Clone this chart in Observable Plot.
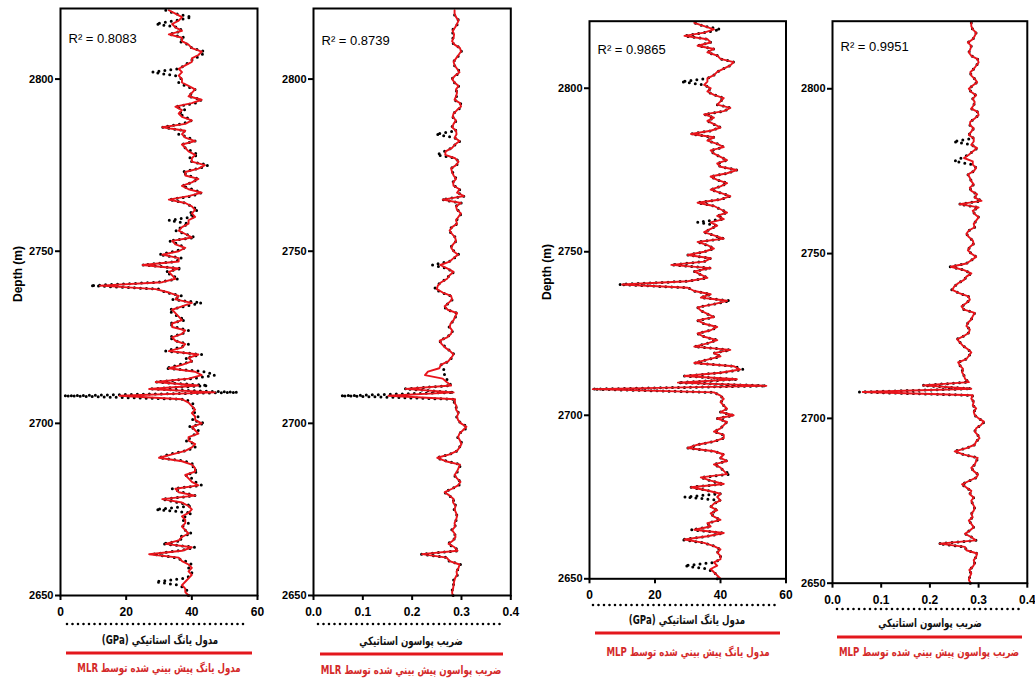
<!DOCTYPE html>
<html><head><meta charset="utf-8">
<script src="https://cdn.jsdelivr.net/npm/d3@7"></script>
<script src="https://cdn.jsdelivr.net/npm/@observablehq/plot@0.6"></script>
<style>
body{margin:0;background:#fff;}
#wrap{position:relative;width:1035px;height:684px;overflow:hidden;background:#fff;}
.fa{position:absolute;direction:rtl;font-family:"DejaVu Sans",sans-serif;font-weight:bold;white-space:nowrap;transform:translate(-50%,-50%) scaleX(0.75);font-size:11.5px;}
</style></head>
<body><div id="wrap"></div>
<script>
// depth axis (m), 1 m samples from 2650 to 2820
const depthStart = 2650, depthStep = 1;
const depthTicks = [2650, 2700, 2750, 2800];
const eTicks = [0, 20, 40, 60];
const nuTicks = [0, 0.1, 0.2, 0.3, 0.4];
const r2Labels = ["R² = 0.8083", "R² = 0.8739", "R² = 0.9865", "R² = 0.9951"];
const measLabelE = "مدول يانگ استاتيكي (GPa)";
const measLabelNu = "ضريب پواسون استاتيكي";
const predLabels = ["مدول يانگ پيش بيني شده توسط MLR", "ضريب پواسون پيش بيني شده توسط MLR", "مدول يانگ پيش بيني شده توسط MLP", "ضريب پواسون پيش بيني شده توسط MLP"];

// Static Young's modulus (GPa), measured
const eMeas = [39,39,38,36,29,38,40,40,39,40, 38,35,28,36,41,31,37,36,40,38, 37,39,37,38,40,29,40,36,31,41,
 37,34,43,41,40,38,42,40,41,38, 30,33,38,41,41,38,40,41,42,39, 44,40,42,41,40,41,40,38,1,54,
 27,45,29,40,47,44,32,36,40,38, 43,32,36,39,35,33,37,39,35,33, 38,36,34,33,38,43,34,37,32,30,
 9,30,36,34,32,37,25,35,37,30, 35,38,36,33,41,38,35,37,39,33, 41,39,42,40,38,33,40,43,40,37,
 40,42,39,37,42,45,40,39,42,40, 38,37,41,39,36,38,31,37,40,38, 36,38,35,41,43,39,40,41,38,36,
 37,35,28,36,38,39,41,43,44,40, 39,36,38,33,37,36,29,35,40,35, 32];
// predicted by MLR
const eMLR = [39,38,38,37,38,39,40,39,40,39, 37,36,27,37,40,32,36,37,39,38, 37,38,38,37,39,40,39,37,31,41,
 36,35,42,40,39,38,41,41,40,37, 30,34,38,40,41,39,39,42,41,40, 43,41,41,40,41,40,39,37,18,47,
 27,42,29,39,43,41,33,37,40,39, 42,33,37,38,35,34,37,38,34,34, 37,36,35,34,37,40,35,36,33,29,
 12,31,35,34,33,36,25,36,36,31, 36,38,35,34,40,38,36,37,39,39, 41,40,41,40,38,33,39,43,39,37,
 40,42,38,38,42,44,40,40,41,39, 38,37,41,38,37,38,31,38,40,37, 36,37,35,40,43,39,40,41,39,37,
 37,36,37,36,38,40,40,42,43,40, 39,37,37,33,37,35,34,36,37,35, 33];
// predicted by MLP
const eMLP = [40,39,38,37,39,38,40,40,39,40, 38,35,29,36,41,32,37,36,40,38, 37,39,37,38,40,39,40,36,31,41,
 37,34,42,41,40,38,42,40,41,38, 30,33,38,41,41,38,40,41,42,39, 44,40,42,41,40,41,40,38,1,54,
 27,45,29,40,46,44,32,36,40,38, 43,32,36,39,35,33,37,39,35,33, 38,36,34,33,38,42,34,37,32,30,
 10,30,36,34,32,37,25,35,37,30, 35,38,36,33,41,38,35,37,39,37, 41,39,42,40,38,33,40,43,40,37,
 40,42,39,37,42,45,40,39,42,40, 38,37,41,39,36,38,31,37,40,38, 36,38,35,41,43,39,40,41,38,36,
 37,35,36,36,38,39,41,43,44,40, 39,36,38,33,37,36,29,35,38,35, 32];
// Static Poisson's ratio, measured
const nuMeas = [.283,.280,.282,.285,.280,.288,.292,.290,.295,.298, .275,.272,.218,.295,.285,.272,.282,.290,.285,.280,
 .288,.285,.290,.292,.288,.285,.290,.282,.285,.275, .265,.280,.295,.299,.290,.285,.292,.295,.299,.270,
 .250,.275,.292,.295,.302,.298,.292,.295,.305,.312, .300,.292,.290,.295,.288,.290,.285,.288,.055,.285,
 .185,.280,.272,.270,.265,.268,.262,.258,.275,.280, .285,.278,.268,.262,.255,.270,.280,.282,.275,.278,
 .285,.288,.292,.270,.265,.275,.282,.279,.260,.245, .250,.258,.270,.275,.285,.270,.241,.275,.285,.295,
 .285,.278,.282,.290,.288,.280,.275,.280,.292,.290, .295,.300,.292,.288,.300,.260,.306,.292,.297,.285,
 .282,.290,.285,.282,.278,.290,.295,.288,.250,.265, .280,.288,.297,.285,.248,.290,.280,.285,.290,.282,
 .283,.292,.300,.298,.285,.290,.292,.288,.295,.285, .280,.288,.297,.292,.285,.283,.290,.295,.300,.298,
 .285,.280,.283,.285,.278,.288,.292,.295,.288,.285, .285];
const nuMLR = [.282,.281,.283,.284,.285,.287,.291,.290,.294,.296, .276,.270,.220,.292,.286,.274,.283,.288,.286,.281,
 .287,.286,.289,.291,.289,.286,.288,.283,.284,.276, .266,.281,.293,.298,.291,.286,.291,.294,.297,.268,
 .251,.276,.291,.296,.300,.297,.293,.296,.303,.310, .299,.293,.291,.294,.289,.290,.286,.287,.152,.284,
 .187,.279,.270,.262,.226,.232,.255,.258,.273,.279, .284,.277,.267,.260,.256,.271,.279,.281,.276,.278,
 .284,.287,.291,.272,.266,.274,.281,.279,.262,.250, .252,.259,.271,.276,.284,.271,.257,.276,.284,.293,
 .284,.279,.283,.289,.287,.281,.276,.281,.291,.289, .294,.299,.291,.289,.299,.262,.305,.291,.296,.284,
 .283,.289,.284,.281,.279,.289,.294,.287,.267,.268, .281,.287,.296,.286,.290,.289,.281,.284,.289,.282,
 .284,.291,.299,.297,.286,.289,.291,.289,.294,.286, .281,.287,.296,.291,.286,.284,.289,.294,.299,.297,
 .286,.281,.284,.285,.282,.287,.291,.294,.289,.286, .286];
const nuMLP = [.284,.280,.282,.285,.281,.288,.292,.290,.295,.297, .275,.272,.220,.294,.285,.272,.282,.290,.285,.280,
 .288,.285,.290,.292,.288,.285,.290,.282,.285,.275, .266,.280,.295,.299,.290,.285,.292,.295,.298,.270,
 .251,.275,.292,.295,.302,.298,.292,.295,.305,.311, .300,.292,.290,.295,.288,.290,.285,.288,.062,.285,
 .186,.280,.272,.270,.266,.268,.262,.258,.275,.280, .285,.278,.268,.262,.256,.270,.280,.282,.275,.278,
 .285,.288,.292,.270,.265,.275,.282,.279,.260,.246, .250,.258,.270,.275,.285,.270,.243,.275,.285,.295,
 .285,.278,.282,.290,.288,.280,.275,.280,.292,.290, .295,.300,.292,.288,.300,.261,.306,.292,.297,.285,
 .282,.290,.285,.282,.278,.290,.295,.288,.288,.270, .280,.288,.297,.285,.290,.290,.280,.285,.290,.282,
 .283,.292,.300,.298,.285,.290,.292,.288,.295,.285, .280,.288,.297,.292,.285,.283,.290,.295,.300,.298,
 .285,.280,.283,.285,.278,.288,.292,.295,.288,.285, .285];

const depth = eMeas.map((_, i) => depthStart + i * depthStep);
const rows = depth.map((d, i) => ({depth: d, eMeas: eMeas[i], eMLR: eMLR[i], eMLP: eMLP[i], nuMeas: nuMeas[i], nuMLR: nuMLR[i], nuMLP: nuMLP[i]}));

const wrap = document.getElementById("wrap");

const panels = [
  {meas: "eMeas", pred: "eMLR", dom: [0, 60], ticks: eTicks, fmt: d => String(d), L: 60, R: 257, T: 8, B: 595, r2: r2Labels[0], r2dy: 25, depthLabel: true,
   leg: {dotY: 624, dotX: [67, 247], txtY: 640, txtX: 160, redY: 653, redX: [66, 252], predY: 668, predX: 159}, measLabel: measLabelE, predLabel: predLabels[0]},
  {meas: "nuMeas", pred: "nuMLR", dom: [0, 0.4], ticks: nuTicks, fmt: d3.format(".1f"), L: 312.7, R: 510, T: 8, B: 595, r2: r2Labels[1], r2dy: 27, depthLabel: false,
   leg: {dotY: 624, dotX: [318, 500], txtY: 641, txtX: 411, redY: 654, redX: [320, 503], predY: 670, predX: 411}, measLabel: measLabelNu, predLabel: predLabels[1]},
  {meas: "eMeas", pred: "eMLP", dom: [0, 60], ticks: eTicks, fmt: d => String(d), L: 588.5, R: 785, T: 20.7, B: 578.3, r2: r2Labels[2], r2dy: 24, depthLabel: true,
   leg: {dotY: 605, dotX: [593, 777], txtY: 620, txtX: 687, redY: 633, redX: [595, 780], predY: 652, predX: 688}, measLabel: measLabelE, predLabel: predLabels[2]},
  {meas: "nuMeas", pred: "nuMLP", dom: [0, 0.4], ticks: nuTicks, fmt: d3.format(".1f"), L: 831.7, R: 1026.5, T: 20.7, B: 582.7, r2: r2Labels[3], r2dy: 21, depthLabel: false,
   leg: {dotY: 609, dotX: [837, 1020], txtY: 623, txtX: 930, redY: 637, redX: [837, 1022], predY: 652, predX: 929}, measLabel: measLabelNu, predLabel: predLabels[3]}
];

for (const p of panels) {
  const mL = p.depthLabel ? 60 : 44, mR = 10, mT = p.T, mB = 34;
  const width = mL + (p.R - p.L) + mR;
  const height = mT + (p.B - p.T) + mB;
  const marks = [
    Plot.line(rows, {x: p.meas, y: "depth", stroke: "#000", strokeWidth: 3, strokeDasharray: "0,6", strokeLinecap: "round"}),
    Plot.line(rows, {x: p.pred, y: "depth", stroke: "#e8141b", strokeWidth: 1.9}),
    Plot.frame({stroke: "#000", strokeWidth: 2}),
    Plot.axisX({ticks: p.ticks, tickFormat: p.fmt, tickSize: 5, strokeWidth: 2, tickPadding: 7, label: null, fontSize: 12}),
    Plot.axisY({ticks: depthTicks, tickFormat: d => String(d), tickSize: 5, strokeWidth: 2, tickPadding: 2, label: null, fontSize: 11}),
    Plot.text([p.r2], {frameAnchor: "top-left", dx: 8, dy: p.r2dy, text: d => d, textAnchor: "start", fontWeight: "normal", fontSize: 13})
  ];
  if (p.depthLabel) marks.push(Plot.text(["Depth (m)"], {frameAnchor: "left", text: d => d, rotate: -90, dx: -42, fontSize: 12, fontWeight: "bold"}));
  const svg = Plot.plot({
    width, height, marginLeft: mL, marginRight: mR, marginTop: mT, marginBottom: mB,
    x: {domain: p.dom},
    y: {domain: [2650, 2820.5]},
    style: {background: "transparent", fontFamily: "'Liberation Sans', Arial, sans-serif", fontWeight: "bold", overflow: "visible"},
    marks
  });
  svg.style.position = "absolute";
  svg.style.left = (p.L - mL) + "px";
  svg.style.top = "0px";
  wrap.appendChild(svg);

  // legend (below the chart)
  const lg = d3.select(wrap).append("svg").attr("width", 1035).attr("height", 684)
    .style("position", "absolute").style("left", 0).style("top", 0).style("pointer-events", "none");
  lg.append("line").attr("x1", p.leg.dotX[0]).attr("x2", p.leg.dotX[1]).attr("y1", p.leg.dotY).attr("y2", p.leg.dotY)
    .attr("stroke", "#000").attr("stroke-width", 2.6).attr("stroke-dasharray", "0,5.5").attr("stroke-linecap", "round");
  lg.append("line").attr("x1", p.leg.redX[0]).attr("x2", p.leg.redX[1]).attr("y1", p.leg.redY).attr("y2", p.leg.redY)
    .attr("stroke", "#e3171c").attr("stroke-width", 3);
  d3.select(wrap).append("div").attr("class", "fa").attr("dir", "rtl")
    .style("left", p.leg.txtX + "px").style("top", p.leg.txtY + "px").style("color", "#111").text(p.measLabel);
  d3.select(wrap).append("div").attr("class", "fa").attr("dir", "rtl")
    .style("left", p.leg.predX + "px").style("top", p.leg.predY + "px").style("color", "#d42a2a").text(p.predLabel);
}
</script></body></html>
